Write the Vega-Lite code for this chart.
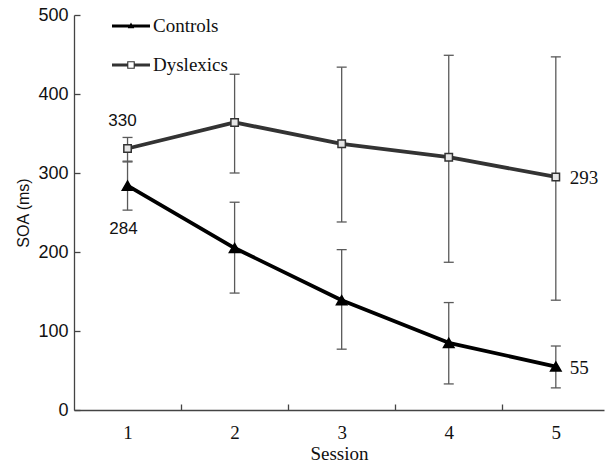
{
  "$schema": "https://vega.github.io/schema/vega-lite/v6.json",
  "autosize": "none",
  "width": 530,
  "height": 395,
  "padding": {"left": 74, "top": 15, "right": 1, "bottom": 54},
  "background": "white",
  "config": {"view": {"stroke": null}},
  "datasets": {
    "stats": [
      {"series": "Controls", "session": 1, "mean": 284, "lo": 253, "hi": 315},
      {"series": "Controls", "session": 2, "mean": 205, "lo": 148, "hi": 263},
      {"series": "Controls", "session": 3, "mean": 139, "lo": 77, "hi": 203},
      {"series": "Controls", "session": 4, "mean": 85, "lo": 33, "hi": 136},
      {"series": "Controls", "session": 5, "mean": 55, "lo": 28, "hi": 81},
      {"series": "Dyslexics", "session": 1, "mean": 331, "lo": 314, "hi": 345},
      {"series": "Dyslexics", "session": 2, "mean": 364, "lo": 300, "hi": 425},
      {"series": "Dyslexics", "session": 3, "mean": 337, "lo": 238, "hi": 434},
      {"series": "Dyslexics", "session": 4, "mean": 320, "lo": 187, "hi": 449},
      {"series": "Dyslexics", "session": 5, "mean": 295, "lo": 139, "hi": 447}
    ],
    "labels": [
      {"session": 1, "value": 331, "text": "330", "pos": "above"},
      {"session": 1, "value": 284, "text": "284", "pos": "below"},
      {"session": 5, "value": 295, "text": "293", "pos": "right"},
      {"session": 5, "value": 55, "text": "55", "pos": "right"}
    ]
  },
  "layer": [
    {
      "data": {"name": "stats"},
      "mark": {"type": "rule", "stroke": "#5a5a5a", "strokeWidth": 1.3},
      "encoding": {
        "x": {"field": "session", "type": "quantitative"},
        "y": {"field": "lo", "type": "quantitative"},
        "y2": {"field": "hi"}
      }
    },
    {
      "data": {"name": "stats"},
      "mark": {"type": "tick", "orient": "horizontal", "color": "#5a5a5a", "size": 10, "thickness": 1.3, "opacity": 1},
      "encoding": {
        "x": {"field": "session", "type": "quantitative"},
        "y": {"field": "lo", "type": "quantitative"}
      }
    },
    {
      "data": {"name": "stats"},
      "mark": {"type": "tick", "orient": "horizontal", "color": "#5a5a5a", "size": 10, "thickness": 1.3, "opacity": 1},
      "encoding": {
        "x": {"field": "session", "type": "quantitative"},
        "y": {"field": "hi", "type": "quantitative"}
      }
    },
    {
      "data": {"name": "stats"},
      "mark": {"type": "line", "strokeWidth": 3.8, "strokeJoin": "round"},
      "encoding": {
        "x": {
          "field": "session",
          "type": "quantitative",
          "scale": {"domain": [0.5, 5.45], "nice": false, "zero": false},
          "axis": {
            "values": [1, 1.5, 2, 2.5, 3, 3.5, 4, 4.5, 5],
            "labelExpr": "datum.value % 1 === 0 ? datum.value : ''",
            "tickOpacity": {"condition": {"test": "datum.value % 1 === 0", "value": 0}, "value": 1},
            "grid": false,
            "domainColor": "#444",
            "domainWidth": 1.3,
            "tickColor": "#444",
            "tickWidth": 1.3,
            "tickSize": -6,
            "labelPadding": 19,
            "labelFont": "Liberation Serif",
            "labelFontSize": 19,
            "labelColor": "#111",
            "labelFlush": false,
            "title": "Session",
            "titleFont": "Liberation Serif",
            "titleFontSize": 19,
            "titleFontWeight": "normal",
            "titleColor": "#111",
            "titlePadding": 2
          }
        },
        "y": {
          "field": "mean",
          "type": "quantitative",
          "scale": {"domain": [0, 500], "nice": false},
          "axis": {
            "values": [0, 100, 200, 300, 400, 500],
            "grid": false,
            "domainColor": "#444",
            "domainWidth": 1.3,
            "tickColor": "#444",
            "tickWidth": 1.3,
            "tickSize": -6,
            "labelPadding": 12,
            "labelFont": "Liberation Sans",
            "labelFontSize": 18,
            "labelColor": "#111",
            "labelFlush": false,
            "title": "SOA (ms)",
            "titleFont": "Liberation Sans",
            "titleFontSize": 16,
            "titleFontWeight": "normal",
            "titleColor": "#111",
            "titlePadding": 6
          }
        },
        "color": {
          "field": "series",
          "type": "nominal",
          "scale": {"domain": ["Controls", "Dyslexics"], "range": ["#000000", "#333333"]},
          "legend": {
            "orient": "none",
            "legendX": 38,
            "legendY": -8,
            "title": null,
            "padding": 0,
            "rowPadding": 10,
            "symbolSize": 1444,
            "labelFont": "Liberation Serif",
            "labelFontSize": 19,
            "labelColor": "#111",
            "labelOffset": 3,
            "encode": {
              "symbols": {
                "update": {
                  "shape": {"signal": "datum.value === 'Controls' ? 'M-1,-0.085L1,-0.085L1,0.085L-1,0.085Z M0,-0.18L0.17,0.12L-0.17,0.12Z' : 'M-1,-0.085L-0.2,-0.085L-0.2,0.085L-1,0.085Z M0.2,-0.085L1,-0.085L1,0.085L0.2,0.085Z M-0.2,-0.2L0.2,-0.2L0.2,0.2L-0.2,0.2Z M-0.14,-0.14L-0.14,0.14L0.14,0.14L0.14,-0.14Z'"},
                  "fill": {"signal": "datum.value === 'Controls' ? '#000000' : '#333333'"},
                  "stroke": {"value": "transparent"},
                  "strokeWidth": {"value": 0},
                  "size": {"value": 1444},
                  "opacity": {"value": 1}
                }
              }
            }
          }
        }
      }
    },
    {
      "data": {"name": "stats"},
      "mark": {"type": "point", "filled": true, "opacity": 1, "strokeWidth": 1.5},
      "encoding": {
        "x": {"field": "session", "type": "quantitative"},
        "y": {"field": "mean", "type": "quantitative"},
        "shape": {"condition": {"test": "datum.series === 'Controls'", "value": "triangle-up"}, "value": "square"},
        "size": {"condition": {"test": "datum.series === 'Controls'", "value": 110}, "value": 55},
        "fill": {"condition": {"test": "datum.series === 'Controls'", "value": "#000000"}, "value": "#e6e6e6"},
        "stroke": {"condition": {"test": "datum.series === 'Controls'", "value": "#000000"}, "value": "#333333"}
      }
    },
    {
      "data": {"name": "labels"},
      "transform": [{"filter": "datum.pos === 'above'"}],
      "mark": {"type": "text", "font": "Liberation Sans", "fontSize": 17, "color": "#111", "dx": -5, "dy": -28},
      "encoding": {
        "x": {"field": "session", "type": "quantitative"},
        "y": {"field": "value", "type": "quantitative"},
        "text": {"field": "text"}
      }
    },
    {
      "data": {"name": "labels"},
      "transform": [{"filter": "datum.pos === 'below'"}],
      "mark": {"type": "text", "font": "Liberation Sans", "fontSize": 17, "color": "#111", "dx": -4, "dy": 43},
      "encoding": {
        "x": {"field": "session", "type": "quantitative"},
        "y": {"field": "value", "type": "quantitative"},
        "text": {"field": "text"}
      }
    },
    {
      "data": {"name": "labels"},
      "transform": [{"filter": "datum.pos === 'right'"}],
      "mark": {"type": "text", "font": "Liberation Serif", "fontSize": 19, "color": "#111", "align": "left", "dx": 14, "dy": 1},
      "encoding": {
        "x": {"field": "session", "type": "quantitative"},
        "y": {"field": "value", "type": "quantitative"},
        "text": {"field": "text"}
      }
    }
  ]
}
